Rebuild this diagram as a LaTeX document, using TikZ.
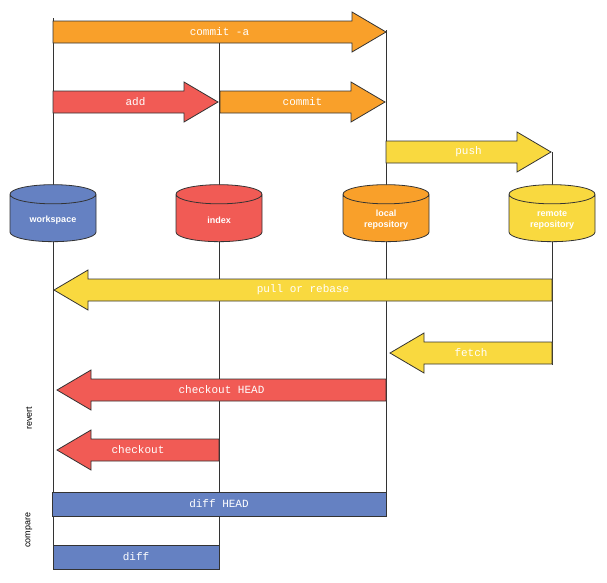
\documentclass[tikz,border=0pt]{standalone}
\usepackage{fontspec}
\setmainfont{Liberation Sans}
\setmonofont{Liberation Mono}
\usetikzlibrary{shapes.geometric,positioning}
\definecolor{gitred}{HTML}{F15B55}
\definecolor{gitorange}{HTML}{F9A02A}
\definecolor{gityellow}{HTML}{F9D93F}
\definecolor{gitblue}{HTML}{6581C2}
\definecolor{gitline}{HTML}{333333}
\tikzset{
    lane/.style={
           draw=gitline,
           line width=0.9pt},
    flowline/.style={
           draw=gitline,
           line width=0.8pt},
    flowtext/.style={
           font=\ttfamily\fontsize{11}{13}\selectfont,
           text=white},
    % repository drums
    store/.style={
           cylinder,
           shape border rotate=90,
           aspect=0.25,
           minimum width=86pt,
           minimum height=57pt,
           draw=gitline,
           line width=0.8pt,
           text=white,
           text width=70pt,
           align=center,
           font=\bfseries\fontsize{9}{11}\selectfont},
    bar/.style={
           draw=gitline,
           line width=0.8pt,
           fill=gitblue,
           minimum height=24pt,
           inner sep=0pt},
    side/.style={
           rotate=90,
           font=\fontsize{9}{11}\selectfont}
}
% from x, to x, y, colour, name, label
\newcommand{\flow}[6]{%
  \pgfmathsetmacro{\hd}{#2>#1 ? -34 : 34}
  \draw[flowline,fill=#4] (#1,#3-11) -- ({#2+\hd},#3-11) -- ({#2+\hd},#3-20)
     -- (#2,#3) -- ({#2+\hd},#3+20) -- ({#2+\hd},#3+11) -- (#1,#3+11) -- cycle;
  \node[flowtext] (#5) at ({(#1+#2)/2},#3) {#6};}
\begin{document}
\begin{tikzpicture}[x=1pt,y=-1pt]
\useasboundingbox (0,0) rectangle (607,582);
\draw[lane] (53,18) -- (53,570);
\draw[lane] (219,42) -- (219,570);
\draw[lane] (386,30) -- (386,516);
\draw[lane] (552,152) -- (552,365);
\node[store,fill=gitblue] (workspace) at (53,220) {workspace};
\node[store,fill=gitred] (index) at (219,220) {index};
\node[store,fill=gitorange] (local) at (386,220) {local\\repository};
\node[store,fill=gityellow] (remote) at (552,220) {remote\\repository};
\flow{53}{386}{32}{gitorange}{commitall}{commit -a}
\flow{53}{218}{102}{gitred}{add}{add}
\flow{220}{385}{102}{gitorange}{commit}{commit}
\flow{386}{551}{152}{gityellow}{push}{push}
\flow{552}{54}{290}{gityellow}{pull}{pull or rebase}
\flow{552}{390}{353}{gityellow}{fetch}{fetch}
\flow{386}{57}{390}{gitred}{checkouthead}{checkout HEAD}
\flow{219}{57}{450}{gitred}{checkout}{checkout}
\node[bar,minimum width=334pt] (diffhead) at (219,504) {};
\node[flowtext] at (diffhead) {diff HEAD};
\node[bar,minimum width=166pt] (diff) at (136,557) {};
\node[flowtext] at (diff) {diff};
\node[side] (revert) at (29,418) {revert};
\node[side] (compare) at (29,530) {compare};
\end{tikzpicture}
\end{document}
